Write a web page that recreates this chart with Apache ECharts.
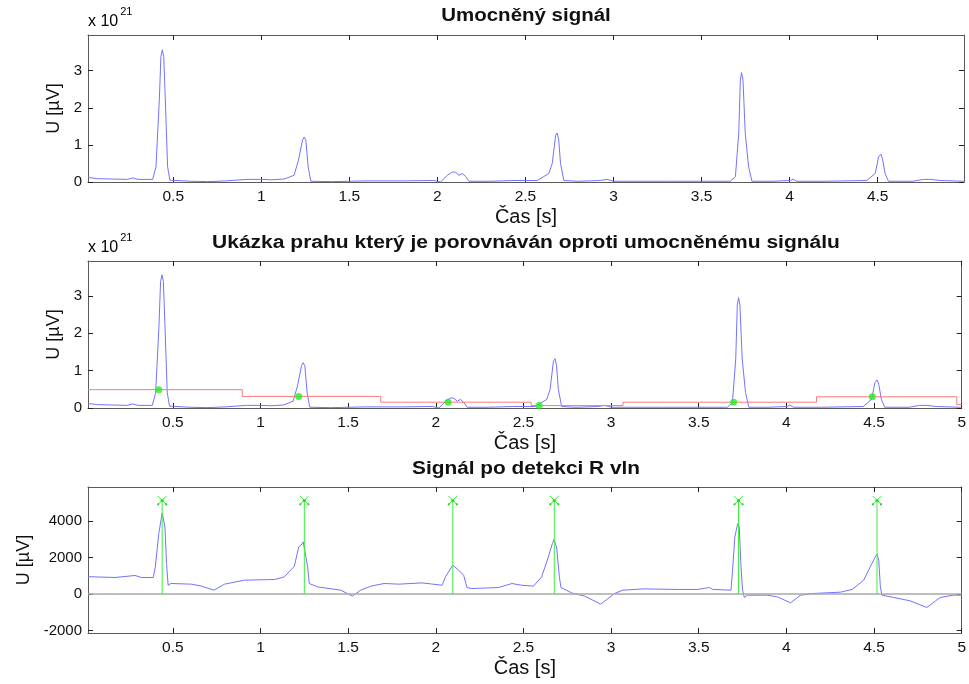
<!DOCTYPE html>
<html>
<head>
<meta charset="utf-8">
<script src="https://cdn.jsdelivr.net/npm/echarts@6/dist/echarts.min.js"></script>
<style>
  html, body { margin: 0; padding: 0; background: #fff; }
  #chart { width: 969px; height: 684px; }
</style>
</head>
<body>
<div id="chart"></div>
<script>
// ---- Powered (umocněný) signal, values in units of 1e21 µV ----
const powTime = [0.016, 0.07, 0.24, 0.27, 0.30, 0.383, 0.402, 0.421, 0.43, 0.438, 0.446, 0.455, 0.468, 0.481, 0.49,
  0.60, 0.695, 0.80, 0.92, 0.997, 1.005, 1.06, 1.13, 1.186, 1.211, 1.234, 1.243, 1.253, 1.266, 1.281,
  1.40, 1.60, 1.80, 1.98, 2.018, 2.056, 2.085, 2.104, 2.122, 2.141, 2.16, 2.179, 2.30, 2.436, 2.567,
  2.633, 2.652, 2.671, 2.68, 2.689, 2.699, 2.718, 2.80, 2.926, 2.964, 3.002, 3.30, 3.663, 3.692, 3.711,
  3.72, 3.727, 3.735, 3.748, 3.767, 3.786, 3.90, 4.004, 4.02, 4.04, 4.20, 4.438, 4.486, 4.505, 4.518,
  4.527, 4.542, 4.561, 4.70, 4.76, 4.80, 4.854, 4.99, 5.0];
const powValue = [0.12, 0.09, 0.07, 0.11, 0.07, 0.07, 0.41, 2.21, 3.38, 3.56, 3.38, 2.21, 0.41, 0.05, 0.01,
  0.02, 0.01, 0.03, 0.07, 0.07, 0.02, 0.06, 0.08, 0.18, 0.59, 1.13, 1.21, 1.13, 0.41, 0.02,
  0.01, 0.03, 0.03, 0.04, 0.0, 0.18, 0.27, 0.26, 0.18, 0.23, 0.15, 0.02, 0.02, 0.04, 0.04,
  0.23, 0.50, 1.25, 1.32, 1.13, 0.50, 0.04, 0.02, 0.04, 0.07, 0.02, 0.02, 0.02, 0.14, 1.31,
  2.75, 2.95, 2.75, 1.31, 0.41, 0.02, 0.02, 0.04, 0.08, 0.02, 0.02, 0.04, 0.23, 0.68, 0.75,
  0.63, 0.23, 0.02, 0.02, 0.07, 0.07, 0.04, 0.02, 0.02];

// ---- Adaptive threshold (práh), units of 1e21 µV ----
const thrTime  = [0.016, 0.896, 1.686, 2.544, 3.068, 4.172, 4.972, 5.0];
const thrLevel = [0.49, 0.31, 0.155, 0.065, 0.155, 0.30, 0.09, 0.09];

// ---- Threshold crossings ----
const crossTime  = [0.420, 1.218, 2.070, 2.589, 3.699, 4.490];
const crossLevel = [0.49, 0.31, 0.155, 0.065, 0.155, 0.30];

// ---- Filtered ECG signal [µV] ----
const ecgTime = [0.016, 0.17, 0.284, 0.322, 0.388, 0.40, 0.42, 0.439, 0.455, 0.464, 0.473, 0.489, 0.606, 0.663,
  0.735, 0.795, 0.909, 1.08, 1.136, 1.193, 1.218, 1.231, 1.244, 1.254, 1.269, 1.278, 1.326, 1.458,
  1.524, 1.572, 1.629, 1.705, 1.79, 1.922, 2.036, 2.055, 2.097, 2.131, 2.159, 2.178, 2.206, 2.358,
  2.434, 2.49, 2.557, 2.604, 2.642, 2.665, 2.674, 2.689, 2.705, 2.714, 2.775, 2.85, 2.941, 3.02,
  3.068, 3.19, 3.38, 3.494, 3.561, 3.58, 3.684, 3.693, 3.706, 3.722, 3.731, 3.74, 3.75, 3.76,
  3.778, 3.892, 3.949, 4.024, 4.081, 4.157, 4.309, 4.375, 4.441, 4.483, 4.507, 4.517, 4.527, 4.536,
  4.545, 4.612, 4.706, 4.801, 4.877, 4.953, 5.0];
const ecgValue = [960, 915, 1025, 915, 915, 1500, 3330, 4450, 3690, 1680, 490, 585, 550, 440,
  220, 550, 770, 805, 950, 1530, 2590, 2690, 2870, 2780, 1500, 585, 400, 220,
  -110, 220, 440, 585, 550, 620, 490, 950, 1590, 1315, 1040, 365, 310, 365,
  585, 490, 440, 950, 2045, 2780, 3000, 2590, 950, 365, 70, -110, -550, 40,
  220, 290, 260, 260, 365, 260, 220, 1315, 3140, 3870, 3690, 1680, 220, -180,
  -55, -55, -150, -475, -55, 40, 110, 260, 770, 1590, 2045, 2190, 1860, 400,
  -55, -180, -365, -730, -180, -55, -55];

// ---- Detected R waves ----
const rTime = [0.439, 1.25, 2.097, 2.676, 3.727, 4.517];
const rMarkLevel = [5150, 5150, 5150, 5150, 5150, 5150];

// ---- Tick labels ----
const xTicks = [0.5, 1, 1.5, 2, 2.5, 3, 3.5, 4, 4.5, 5];
const xTicksTop = [0.5, 1, 1.5, 2, 2.5, 3, 3.5, 4, 4.5];
const yTicksPow = [0, 1, 2, 3];
const yTicksEcg = [-2000, 0, 2000, 4000];

const titles = [
  'Umocněný signál',
  'Ukázka prahu který je porovnáván oproti umocněnému signálu',
  'Signál po detekci R vln'
];

const FONT = '"Liberation Sans", Arial, Helvetica, sans-serif';
const BLUE = '#7373ff';
const RED = '#ff7878';
const GREEN = '#3cf03c';
const FRAME = '#5a5a5a';

const grids = [
  { left: 88, right: 5, top: 35, height: 147 },
  { left: 88, right: 5, top: 261, height: 147 },
  { left: 88, right: 5, top: 487, height: 146 }
];
const xMax = [4.99, 5, 5];
const yRange = [[0, 3.96], [0, 3.93], [-2130, 5880]];
const yTickSets = [yTicksPow, yTicksPow, yTicksEcg];

const xAxes = [], yAxes = [];
grids.forEach((g, i) => {
  const ticks = i === 0 ? xTicksTop : xTicks;
  xAxes.push({
    type: 'value', gridIndex: i, min: 0.016, max: xMax[i], position: 'bottom',
    name: 'Čas [s]', nameLocation: 'middle', nameGap: 25,
    nameTextStyle: { fontFamily: FONT, fontSize: 20, color: '#111' },
    axisLine: { show: true, onZero: false, lineStyle: { color: FRAME, width: 1 } },
    axisTick: { show: true, inside: true, length: 5, customValues: ticks, lineStyle: { color: '#222' } },
    axisLabel: { show: true, customValues: ticks, margin: 7, fontFamily: FONT, fontSize: 15.5, color: '#111',
      formatter: v => String(v) },
    splitLine: { show: false }
  });
  xAxes.push({
    type: 'value', gridIndex: i, min: 0.016, max: xMax[i], position: 'top',
    axisLine: { show: true, onZero: false, lineStyle: { color: FRAME, width: 1 } },
    axisTick: { show: true, inside: true, length: 5, customValues: ticks, lineStyle: { color: '#222' } },
    axisLabel: { show: false }, splitLine: { show: false }
  });
  yAxes.push({
    type: 'value', gridIndex: i, min: yRange[i][0], max: yRange[i][1], position: 'left',
    name: 'U [µV]', nameLocation: 'middle', nameGap: 24, nameRotate: 90,
    nameTextStyle: { fontFamily: FONT, fontSize: 18, color: '#111' },
    axisLine: { show: true, onZero: false, lineStyle: { color: FRAME, width: 1 } },
    axisTick: { show: true, inside: true, length: 5, customValues: yTickSets[i], lineStyle: { color: '#222' } },
    axisLabel: { show: true, customValues: yTickSets[i], margin: 6, fontFamily: FONT, fontSize: 15, color: '#111',
      formatter: v => String(v) },
    splitLine: { show: false }
  });
  yAxes.push({
    type: 'value', gridIndex: i, min: yRange[i][0], max: yRange[i][1], position: 'right',
    axisLine: { show: true, onZero: false, lineStyle: { color: FRAME, width: 1 } },
    axisTick: { show: true, inside: true, length: 5, customValues: yTickSets[i], lineStyle: { color: '#222' } },
    axisLabel: { show: false }, splitLine: { show: false }
  });
});

const zip = (a, b) => a.map((v, k) => [v, b[k]]);

const series = [
  // Powered signal
  { type: 'line', xAxisIndex: 0, yAxisIndex: 0, data: zip(powTime, powValue), showSymbol: false,
    lineStyle: { color: BLUE, width: 1 }, silent: true },
  // Powered signal with threshold
  { type: 'line', xAxisIndex: 2, yAxisIndex: 2, data: zip(powTime, powValue), showSymbol: false,
    lineStyle: { color: BLUE, width: 1 }, silent: true },
  { type: 'line', xAxisIndex: 2, yAxisIndex: 2, data: zip(thrTime, thrLevel), step: 'end', showSymbol: false,
    lineStyle: { color: RED, width: 1 }, silent: true },
  { type: 'scatter', xAxisIndex: 2, yAxisIndex: 2, data: zip(crossTime, crossLevel), symbol: 'circle', symbolSize: 7,
    itemStyle: { color: '#22ee22' }, silent: true, z: 5 },
  // ECG with zero line
  { type: 'line', xAxisIndex: 4, yAxisIndex: 4, data: zip(ecgTime, ecgValue), showSymbol: false,
    lineStyle: { color: BLUE, width: 1 }, silent: true,
    markLine: { silent: true, symbol: 'none', label: { show: false },
      lineStyle: { color: '#a8a8a8', width: 1.5, type: 'solid' }, data: [{ yAxis: 0 }] } },
  // R-wave stems with 'x' markers
  { type: 'custom', xAxisIndex: 4, yAxisIndex: 4, data: zip(rTime, rMarkLevel), silent: true, z: 4,
    encode: { x: 0, y: 1 },
    renderItem: (params, api) => {
      const t = api.value(0), top = api.value(1);
      const p0 = api.coord([t, 0]);
      const p1 = api.coord([t, top]);
      const s = 4.5;
      const st = { stroke: GREEN, lineWidth: 1 };
      return { type: 'group', children: [
        { type: 'line', shape: { x1: p0[0], y1: p0[1], x2: p1[0], y2: p1[1] }, style: st },
        { type: 'line', shape: { x1: p1[0] - s, y1: p1[1] - s, x2: p1[0] + s, y2: p1[1] + s }, style: st },
        { type: 'line', shape: { x1: p1[0] - s, y1: p1[1] + s, x2: p1[0] + s, y2: p1[1] - s }, style: st },
        { type: 'rect', shape: { x: p1[0] - 1.5, y: p1[1] - 1, width: 3, height: 2.5 }, style: { fill: '#22dd22' } },
        { type: 'rect', shape: { x: p1[0] - 5, y: p1[1] + 3, width: 2, height: 2 }, style: { fill: '#22dd22' } },
        { type: 'rect', shape: { x: p1[0] + 3, y: p1[1] + 3, width: 2, height: 2 }, style: { fill: '#22dd22' } }
      ] };
    } }
];

// Panel titles: bold, slightly widened lettering
const titleY = [16, 243, 469];
const titleScale = [1.17, 1.2, 1.19];
const titleGraphics = titles.map((t, i) => ({
  type: 'text', x: 526, y: titleY[i], scaleX: titleScale[i], scaleY: 1,
  style: { text: t, fontFamily: FONT, fontSize: 17.5, fontWeight: 'bold', fill: '#111',
    textAlign: 'center', textVerticalAlign: 'middle' }
}));

// "x 10^21" exponent labels above the powered-signal axes
const expLabel = (y) => ({
  type: 'text', left: 88, top: y,
  style: {
    text: '{b|x 10}{s|21}', fontFamily: FONT,
    rich: {
      b: { fontSize: 16, color: '#111', fontFamily: FONT, verticalAlign: 'bottom', lineHeight: 18 },
      s: { fontSize: 11, color: '#111', fontFamily: FONT, verticalAlign: 'top', lineHeight: 24, padding: [0, 0, 11, 2] }
    }
  }
});

const chart = echarts.init(document.getElementById('chart'), null, { renderer: 'canvas' });
chart.setOption({
  animation: false,
  backgroundColor: '#ffffff',
  grid: grids,
  xAxis: xAxes,
  yAxis: yAxes,
  series: series,
  graphic: titleGraphics.concat([expLabel(6), expLabel(232)])
});
</script>
</body>
</html>
